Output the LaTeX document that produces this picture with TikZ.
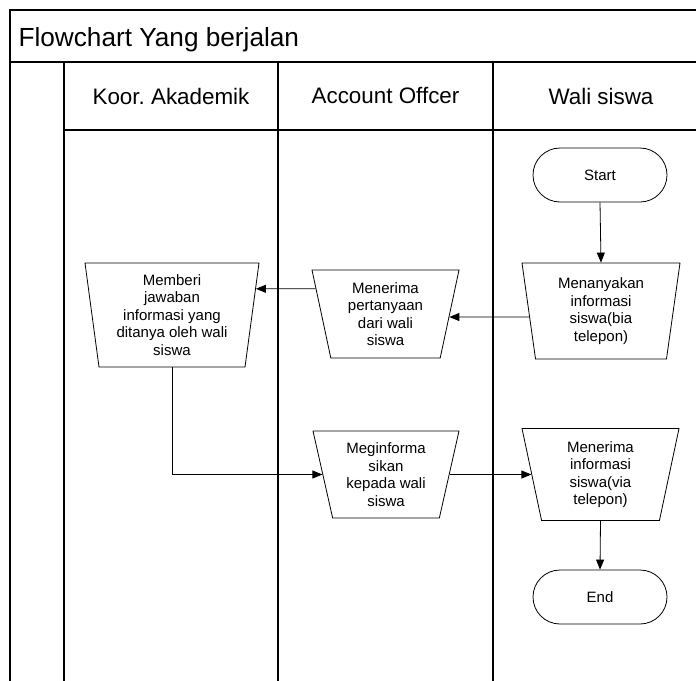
\documentclass[tikz,border=0pt]{standalone}
\usepackage{fontspec}
\setmainfont{Liberation Sans}
\usetikzlibrary{shapes.geometric,shapes.misc,arrows.meta,calc}
\frenchspacing

\tikzset{
  frame/.style={line width=1.1pt, black},
  proc/.style={trapezium, draw, line width=0.8pt, align=center, inner sep=0pt,
    trapezium stretches body=true,
    font=\fontsize{15}{17.5}\selectfont},
  term/.style={rounded rectangle, draw, line width=0.8pt, minimum width=134pt,
    minimum height=54pt, inner sep=0pt, font=\fontsize{15}{17.5}\selectfont},
  flow/.style={line width=0.8pt, -{Triangle[length=10pt,width=8pt]}},
  lanehead/.style={font=\fontsize{22.4}{26}\selectfont}
}

\begin{document}
\begin{tikzpicture}[x=1pt,y=-1pt]
\useasboundingbox (0,0) rectangle (696,680);
\clip (0,0) rectangle (696,680);

% swimlane frame
\draw[frame] (10,690) -- (10,10) -- (710,10);
\draw[frame] (10,62) -- (710,62);
\draw[frame] (64,130) -- (710,130);
\foreach \x in {64,278,493} \draw[frame] (\x,62) -- (\x,690);

\node[anchor=base west, font=\fontsize{26.2}{30}\selectfont] (title) at (15,46) {Flowchart Yang berjalan};
\node[lanehead] (h1) at (171,96) {Koor. Akademik};
\node[lanehead] (h2) at (385.5,96) {Account Offcer};
\node[lanehead] (h3) at (601,96) {Wali siswa};

% terminals
\node[term] (start) at (600,175) {Start};
\node[term] (end) at (600,597) {End};

% processes
\node[proc, minimum width=174pt, minimum height=104pt,
  trapezium left angle=99.8, trapezium right angle=99.8] (memberi) at (172,315)
  {Memberi\\jawaban\\informasi yang\\ditanya oleh wali\\siswa};
\node[proc, minimum width=147pt, minimum height=88pt,
  trapezium left angle=106.5, trapezium right angle=106.5] (terima) at (385.5,314)
  {Menerima\\pertanyaan\\dari wali\\siswa};
\node[proc, minimum width=158pt, minimum height=96pt,
  trapezium left angle=101.5, trapezium right angle=101.5] (tanya) at (601,311)
  {Menanyakan\\informasi\\siswa(bia\\telepon)};
\node[proc, minimum width=146pt, minimum height=87pt,
  trapezium left angle=107.2, trapezium right angle=107.2] (info) at (386,474.5)
  {Meginforma\\sikan\\kepada wali\\siswa};
\node[proc, minimum width=157pt, minimum height=92pt,
  trapezium left angle=106.4, trapezium right angle=106.4] (terimainfo) at (600.5,474.5)
  {Menerima\\informasi\\siswa(via\\telepon)};

% connectors
\draw[flow] (start.south) -- (tanya.top side);
\draw[flow] ($(tanya.top left corner)!0.5625!(tanya.bottom left corner)$)
  -- ($(terima.top right corner)!0.534!(terima.bottom right corner)$);
\draw[flow] ($(terima.top left corner)!0.216!(terima.bottom left corner)$)
  -- ($(memberi.top right corner)!0.25!(memberi.bottom right corner)$);
\draw[flow] (memberi.bottom side) |- (info.left side);
\draw[flow] (info.right side) -- (terimainfo.left side);
\draw[flow] (terimainfo.bottom side) -- (end.north);
\end{tikzpicture}
\end{document}
